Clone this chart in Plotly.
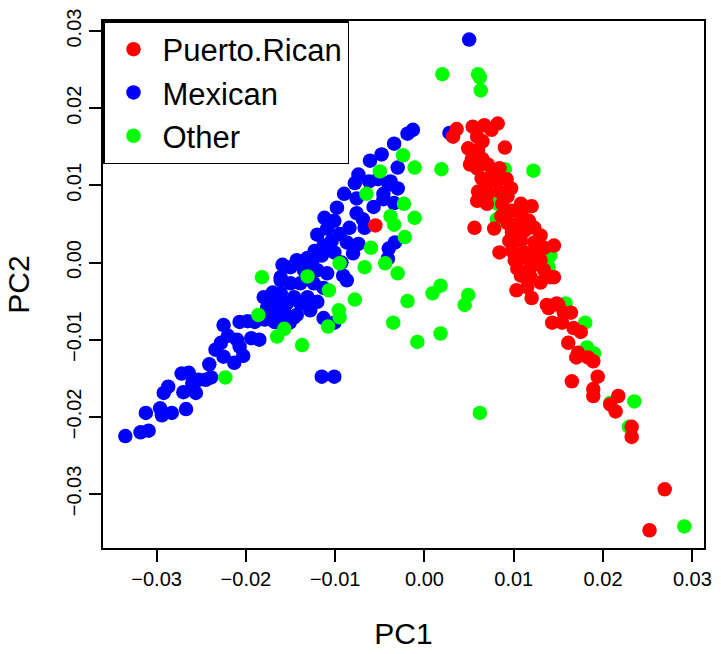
import plotly.graph_objects as go

# ---- data (PC1, PC2) ----
groups = ["Puerto.Rican", "Mexican", "Other"]
colors = ["#FF0000", "#0000FF", "#00FF00"]

puerto_rican = [
    (0.0036, 0.0173), (0.0032, 0.0163), (0.0054, 0.0176), (0.0067, 0.0178), (0.0082, 0.0180),
    (0.0075, 0.0172), (0.0059, 0.0163), (0.0065, 0.0157), (0.0049, 0.0148), (0.0060, 0.0146),
    (0.0090, 0.0149), (0.0053, 0.0134), (0.0065, 0.0134), (0.0051, 0.0127), (0.0059, 0.0122),
    (0.0071, 0.0127), (0.0076, 0.0116), (0.0084, 0.0122), (0.0064, 0.0109), (0.0070, 0.0101),
    (0.0081, 0.0105), (0.0092, 0.0108), (0.0097, 0.0096), (0.0060, 0.0092), (0.0071, 0.0089),
    (0.0084, 0.0092), (0.0093, 0.0086), (0.0059, 0.0080), (0.0070, 0.0076), (0.0087, 0.0076),
    (0.0108, 0.0076), (0.0120, 0.0073), (0.0098, 0.0067), (0.0109, 0.0063), (0.0086, 0.0060),
    (0.0093, 0.0051), (0.0104, 0.0050), (0.0117, 0.0054), (0.0056, 0.0045), (0.0078, 0.0044),
    (0.0098, 0.0039), (0.0112, 0.0041), (0.0123, 0.0045), (0.0130, 0.0035), (0.0095, 0.0028),
    (0.0108, 0.0028), (0.0123, 0.0026), (0.0145, 0.0022), (0.0084, 0.0013), (0.0098, 0.0015),
    (0.0112, 0.0013), (0.0125, 0.0013), (0.0134, 0.0019), (0.0101, 0.0003), (0.0115, 0.0005),
    (0.0130, 0.0003), (0.0104, -0.0008), (0.0119, -0.0006), (0.0134, -0.0010), (0.0145, -0.0019),
    (0.0119, -0.0019), (0.0130, -0.0026), (0.0103, -0.0036), (0.0115, -0.0032), (0.0120, -0.0046),
    (0.0137, -0.0055), (0.0148, -0.0053), (0.0108, -0.0017), (0.0141, -0.0019), (0.0139, -0.0059),
    (0.0150, -0.0055), (0.0156, -0.0065), (0.0164, -0.0065), (0.0143, -0.0078), (0.0154, -0.0078),
    (0.0167, -0.0085), (0.0175, -0.0090), (0.0161, -0.0104), (0.0172, -0.0117), (0.0170, -0.0123),
    (0.0183, -0.0123), (0.0189, -0.0128), (0.0194, -0.0148), (0.0165, -0.0154), (0.0189, -0.0164),
    (0.0189, -0.0173), (0.0217, -0.0173), (0.0208, -0.0184), (0.0214, -0.0193), (0.0232, -0.0213),
    (0.0232, -0.0226), (0.0269, -0.0294), (0.0252, -0.0347), (-0.0055, 0.0048),
]

mexican = [
    (-0.0335, -0.0225), (-0.0318, -0.0220), (-0.0309, -0.0218), (-0.0312, -0.0195), (-0.0296, -0.0189),
    (-0.0294, -0.0198), (-0.0283, -0.0195), (-0.0267, -0.0190), (-0.0292, -0.0169), (-0.0287, -0.0161),
    (-0.0272, -0.0144), (-0.0264, -0.0143), (-0.0270, -0.0168), (-0.0256, -0.0169), (-0.0260, -0.0157),
    (-0.0245, -0.0152), (-0.0239, -0.0149), (-0.0241, -0.0132), (-0.0234, -0.0113), (-0.0225, -0.0122),
    (-0.0213, -0.0130), (-0.0203, -0.0121), (-0.0225, -0.0081), (-0.0220, -0.0095), (-0.0210, -0.0100),
    (-0.0207, -0.0077), (-0.0198, -0.0076), (-0.0190, -0.0077), (-0.0185, -0.0100), (-0.0180, -0.0045),
    (-0.0170, -0.0039), (-0.0161, -0.0023), (-0.0159, -0.0003), (-0.0161, -0.0019), (-0.0176, -0.0058),
    (-0.0168, -0.0077), (-0.0194, -0.0098), (-0.0207, -0.0109), (-0.0228, -0.0104), (-0.0253, -0.0152),
    (-0.0150, -0.0006), (-0.0151, -0.0078), (-0.0146, -0.0071), (-0.0013, 0.0172), (-0.0019, 0.0167),
    (-0.0034, 0.0154), (-0.0048, 0.0140), (-0.0061, 0.0132), (-0.0030, 0.0123), (-0.0074, 0.0114),
    (-0.0078, 0.0103), (-0.0062, 0.0105), (-0.0052, 0.0108), (-0.0038, 0.0105), (-0.0030, 0.0096),
    (-0.0090, 0.0089), (-0.0076, 0.0083), (-0.0057, 0.0072), (-0.0046, 0.0082), (-0.0034, 0.0077),
    (-0.0098, 0.0071), (-0.0112, 0.0058), (-0.0101, 0.0054), (-0.0076, 0.0064), (-0.0069, 0.0056),
    (-0.0084, 0.0045), (-0.0067, 0.0045), (-0.0120, 0.0036), (-0.0109, 0.0044), (-0.0095, 0.0037),
    (-0.0087, 0.0026), (-0.0074, 0.0024), (-0.0113, 0.0022), (-0.0123, 0.0015), (-0.0101, 0.0013),
    (-0.0080, 0.0012), (-0.0131, 0.0006), (-0.0143, 0.0003), (-0.0135, -0.0010), (-0.0120, -0.0010),
    (-0.0109, -0.0014), (-0.0091, -0.0017), (-0.0087, -0.0023), (-0.0150, -0.0027), (-0.0139, -0.0027),
    (-0.0124, -0.0027), (-0.0113, -0.0033), (-0.0161, -0.0040), (-0.0146, -0.0045), (-0.0131, -0.0045),
    (-0.0167, -0.0053), (-0.0154, -0.0053), (-0.0139, -0.0053), (-0.0120, -0.0051), (-0.0172, -0.0064),
    (-0.0157, -0.0065), (-0.0143, -0.0068), (-0.0179, -0.0074), (-0.0165, -0.0077), (-0.0128, -0.0062),
    (-0.0113, -0.0072), (-0.0101, -0.0078), (-0.0033, 0.0026), (-0.0040, 0.0018), (-0.0041, 0.0005),
    (-0.0040, 0.0101), (-0.0046, 0.0089), (0.0050, 0.0289), (0.0028, 0.0168), (-0.0115, -0.0148),
    (-0.0101, -0.0148), (-0.0104, 0.0028), (-0.0093, 0.0000), (-0.0126, 0.0000), (-0.0115, 0.0009),
]

other = [
    (0.0020, 0.0244), (0.0060, 0.0244), (0.0062, 0.0240), (0.0063, 0.0223), (-0.0024, 0.0139),
    (-0.0011, 0.0123), (0.0019, 0.0121), (-0.0050, 0.0118), (-0.0065, 0.0089), (-0.0023, 0.0076),
    (-0.0038, 0.0060), (-0.0034, 0.0049), (-0.0011, 0.0058), (-0.0022, 0.0033), (-0.0060, 0.0019),
    (-0.0044, -0.0001), (-0.0067, -0.0006), (-0.0030, -0.0014), (-0.0095, -0.0001), (-0.0182, -0.0019),
    (-0.0131, -0.0018), (-0.0107, -0.0036), (-0.0078, -0.0048), (-0.0019, -0.0050), (0.0009, -0.0040),
    (0.0018, -0.0030), (0.0049, -0.0042), (0.0045, -0.0055), (-0.0096, -0.0062), (-0.0095, -0.0071),
    (-0.0108, -0.0083), (-0.0035, -0.0078), (-0.0157, -0.0086), (-0.0165, -0.0096), (-0.0137, -0.0107),
    (0.0018, -0.0092), (-0.0008, -0.0103), (0.0062, -0.0195), (-0.0223, -0.0149), (-0.0186, -0.0068),
    (0.0122, 0.0119), (0.0090, 0.0121), (0.0081, 0.0056), (0.0082, 0.0076), (0.0141, 0.0009),
    (0.0139, -0.0006), (0.0158, -0.0053), (0.0180, -0.0078), (0.0182, -0.0110), (0.0190, -0.0118),
    (0.0235, -0.0180), (0.0229, -0.0213), (0.0208, -0.0182), (0.0291, -0.0342),
]

x_ticks = [-0.03, -0.02, -0.01, 0.00, 0.01, 0.02, 0.03]
y_ticks = [-0.03, -0.02, -0.01, 0.00, 0.01, 0.02, 0.03]
x_label = "PC1"
y_label = "PC2"

series = {"Puerto.Rican": puerto_rican, "Mexican": mexican, "Other": other}
draw_order = ["Mexican", "Other", "Puerto.Rican"]

FONT = "Liberation Sans, Arial, Helvetica, sans-serif"

fig = go.Figure()
for name in draw_order:
    pts = series[name]
    idx = groups.index(name)
    fig.add_trace(go.Scatter(
        x=[p[0] for p in pts], y=[p[1] for p in pts],
        mode="markers", name=name, legendrank=idx + 1,
        marker=dict(size=14.5, color=colors[idx], line=dict(width=0)),
    ))

axis_common = dict(
    showgrid=False, zeroline=False, showline=True, mirror=True,
    linecolor="black", linewidth=1.5, ticks="outside", ticklen=12,
    tickwidth=1.5, tickcolor="black", tickformat=".2f",
    tickfont=dict(family=FONT, size=20, color="black"),
)

fig.update_layout(
    width=721, height=654,
    margin=dict(l=103, r=9, t=18, b=104),
    paper_bgcolor="white", plot_bgcolor="white",
    showlegend=True,
    legend=dict(
        x=0, y=1, xanchor="left", yanchor="top",
        bgcolor="white", bordercolor="black", borderwidth=1.5,
        font=dict(family=FONT, size=31, color="black"),
        itemwidth=48, tracegroupgap=0,
    ),
    xaxis=dict(axis_common, range=[-0.0360, 0.0313], tickvals=x_ticks,
               title=dict(text=x_label, font=dict(family=FONT, size=30, color="black"), standoff=34)),
    yaxis=dict(axis_common, range=[-0.0370, 0.0313], tickvals=y_ticks, tickangle=-90,
               title=dict(text=y_label, font=dict(family=FONT, size=30, color="black"), standoff=25)),
)

fig.write_html("out.html")
